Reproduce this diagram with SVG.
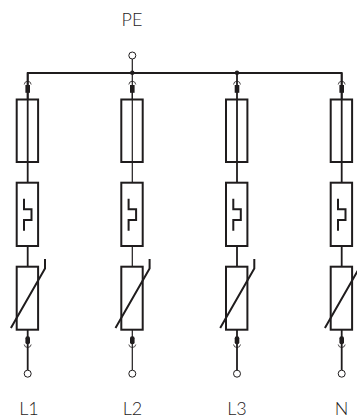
<svg xmlns="http://www.w3.org/2000/svg" width="357" height="419" viewBox="0 0 357 419">
<style>
.w{fill:none;stroke:#1f1c1d;stroke-width:1.8}
.t{stroke-width:1.2}
.o{fill:none;stroke:#1f1c1d;stroke-width:2}
.a{fill:none;stroke:#1f1c1d;stroke-width:.8}
.k{fill:#1f1c1d}
.c{fill:#fff;stroke:#1f1c1d;stroke-width:1}
text{font-family:"Lato","Liberation Sans",sans-serif;font-size:18px;font-weight:300;fill:#1f1c1d;text-anchor:middle}
</style>
<defs>
<g id="branch">
<path class="a" d="M-3.5 84.5Q-3 81.2 0 81.2T3.5 84.5M-3.5 344.5Q-3 347.5 0 347.5T3.5 344.5"/>
<rect class="k" x="-2.3" y="85" width="4.6" height="7.8"/>
<rect class="k" x="-2.3" y="336.3" width="4.6" height="8" rx="2"/>
<rect class="o" x="-11" y="99.5" width="21.4" height="62.5"/>
<rect class="o" x="-11" y="182.7" width="21.4" height="63.3"/>
<rect class="o" x="-11" y="266.7" width="21.4" height="63"/>
<path class="o" d="M-3.7 198.7V209.3H3.8V220H-3.7V230.7"/>
<path class="o" d="M17.3 259V268.5L-16.8 328"/>
</g>
</defs>
<g id="connectors">
<path class="w" d="M27.7 100V73H341.7V100"/>
<path class="w t" d="M132.3 59V100"/>
<path class="w" d="M27.7 73V182.7M27.7 246V266.7M27.7 329.7V370"/>
<path class="w t" d="M132.3 92V182.7M132.3 246V266.7M132.3 329.7V370"/>
<path class="w" d="M237 73V182.7M237 246V266.7M237 329.7V370"/>
<path class="w" d="M341.7 73V182.7M341.7 246V266.7M341.7 329.7V370"/>
<circle class="k" cx="132.3" cy="72.7" r="2.2"/>
<circle class="k" cx="237" cy="72.7" r="2.2"/>
</g>
<g id="PE"><circle class="c" cx="132.3" cy="55.5" r="3.5"/><text x="132" y="26">PE</text></g>
<g id="branch-L1"><use href="#branch" x="27.7"/><circle class="c" cx="27.7" cy="373.7" r="3.5"/><text x="29" y="415">L1</text></g>
<g id="branch-L2"><use href="#branch" x="132.3"/><circle class="c" cx="132.3" cy="373.7" r="3.5"/><text x="132.5" y="415">L2</text></g>
<g id="branch-L3"><use href="#branch" x="237"/><circle class="c" cx="237" cy="373.7" r="3.5"/><text x="237" y="415">L3</text></g>
<g id="branch-N"><use href="#branch" x="341.7"/><circle class="c" cx="341.7" cy="373.7" r="3.5"/><text x="341.5" y="415">N</text></g>
</svg>
